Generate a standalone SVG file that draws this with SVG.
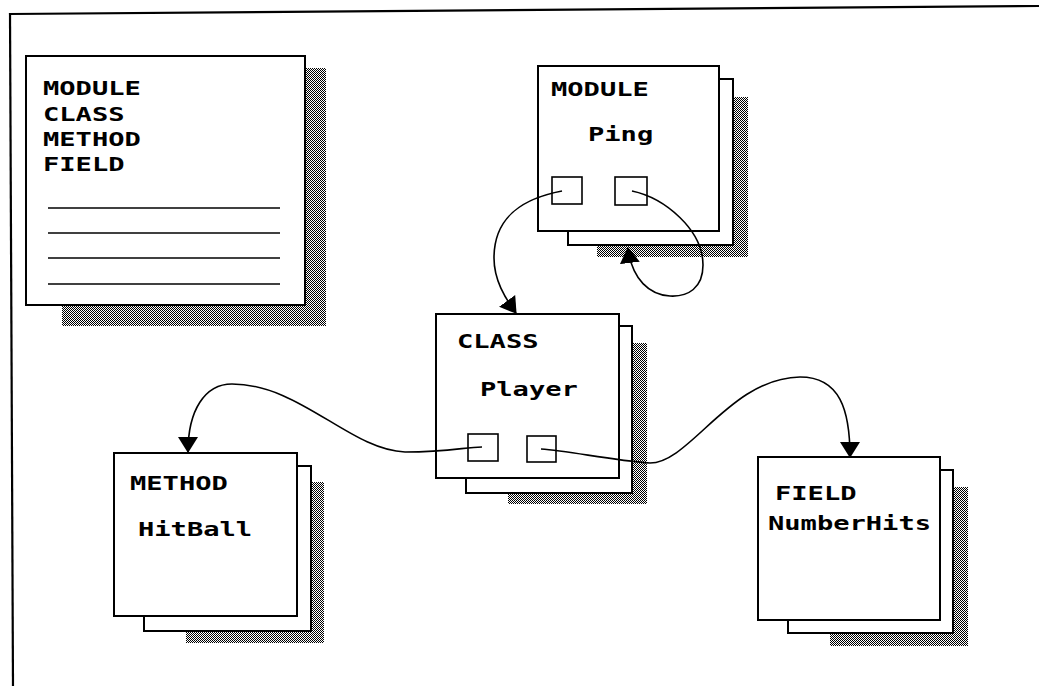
<svg xmlns="http://www.w3.org/2000/svg" width="1039" height="686" viewBox="0 0 1039 686">
  <style>
    .card { fill: #fff; stroke: #000; stroke-width: 2; }
    .shadow { fill: url(#dither); stroke: none; }
    .port { fill: none; stroke: #000; stroke-width: 1.6; }
    .rule { stroke: #000; stroke-width: 1.6; }
    .frame { stroke: #000; stroke-width: 2.2; fill: none; }
    .lbl { font-family: "DejaVu Sans Mono", "Liberation Mono", monospace; font-weight: bold; font-size: 19px; fill: #000; }
    .link { fill: none; stroke: #000; stroke-width: 1.6; marker-end: url(#arrow); }
  </style>
  <defs>
    <pattern id="dither" width="2" height="2" patternUnits="userSpaceOnUse">
      <rect width="2" height="2" fill="#fff"/>
      <rect x="0" y="0" width="1" height="1" fill="#000"/>
      <rect x="1" y="1" width="1" height="1" fill="#000"/>
    </pattern>
    <marker id="arrow" viewBox="0 0 16 20" refX="15" refY="10" markerWidth="16" markerHeight="20" markerUnits="userSpaceOnUse" orient="auto">
      <path d="M0,0 L16,10 L0,20 z" fill="#000"/>
    </marker>
  </defs>

  <rect width="1039" height="686" fill="#fff"/>

  <!-- outer frame: top and left edges only -->
  <g id="frame">
    <path class="frame" d="M10,14 L1039,6"/>
    <path class="frame" d="M10,13 L13,686"/>
  </g>

  <!-- legend card -->
  <g id="legend">
    <rect class="shadow" x="62" y="68" width="264" height="258"/>
    <rect class="card" x="26" y="56" width="279" height="249"/>
    <text class="lbl" x="43" y="95" textLength="97.8" lengthAdjust="spacingAndGlyphs">MODULE</text>
    <text class="lbl" x="43" y="121" textLength="81.5" lengthAdjust="spacingAndGlyphs">CLASS</text>
    <text class="lbl" x="43" y="146" textLength="97.8" lengthAdjust="spacingAndGlyphs">METHOD</text>
    <text class="lbl" x="43" y="171" textLength="81.5" lengthAdjust="spacingAndGlyphs">FIELD</text>
    <line class="rule" x1="48" y1="208" x2="280" y2="208"/>
    <line class="rule" x1="48" y1="233" x2="280" y2="233"/>
    <line class="rule" x1="48" y1="258" x2="280" y2="258"/>
    <line class="rule" x1="48" y1="284" x2="280" y2="284"/>
  </g>

  <!-- MODULE Ping -->
  <g id="module-ping">
    <rect class="shadow" x="597" y="97" width="151" height="160"/>
    <rect class="card" x="568" y="79" width="165" height="166"/>
    <rect class="card" x="538" y="66" width="181" height="165"/>
    <text class="lbl" x="551" y="96" textLength="97.8" lengthAdjust="spacingAndGlyphs">MODULE</text>
    <text class="lbl" x="588" y="141" textLength="65.2" lengthAdjust="spacingAndGlyphs">Ping</text>
    <rect class="port" x="552" y="177" width="30" height="27"/>
    <rect class="port" x="615" y="177" width="32" height="28"/>
  </g>

  <!-- CLASS Player -->
  <g id="class-player">
    <rect class="shadow" x="508" y="343" width="139" height="161"/>
    <rect class="card" x="466" y="326" width="166" height="167"/>
    <rect class="card" x="436" y="314" width="183" height="164"/>
    <text class="lbl" x="457" y="348" textLength="81.5" lengthAdjust="spacingAndGlyphs">CLASS</text>
    <text class="lbl" x="480" y="396" textLength="97.8" lengthAdjust="spacingAndGlyphs">Player</text>
    <rect class="port" x="468" y="434" width="30" height="27"/>
    <rect class="port" x="527" y="436" width="29" height="26"/>
  </g>

  <!-- METHOD HitBall -->
  <g id="method-hitball">
    <rect class="shadow" x="186" y="482" width="138" height="161"/>
    <rect class="card" x="144" y="466" width="167" height="165"/>
    <rect class="card" x="114" y="453" width="183" height="163"/>
    <text class="lbl" x="130" y="490" textLength="97.8" lengthAdjust="spacingAndGlyphs">METHOD</text>
    <text class="lbl" x="138" y="536" textLength="114.1" lengthAdjust="spacingAndGlyphs">HitBall</text>
  </g>

  <!-- FIELD NumberHits -->
  <g id="field-numberhits">
    <rect class="shadow" x="830" y="487" width="138" height="159"/>
    <rect class="card" x="788" y="470" width="165" height="163"/>
    <rect class="card" x="758" y="457" width="182" height="163"/>
    <text class="lbl" x="775" y="500" textLength="81.5" lengthAdjust="spacingAndGlyphs">FIELD</text>
    <text class="lbl" x="768" y="530" textLength="163" lengthAdjust="spacingAndGlyphs">NumberHits</text>
  </g>

  <!-- connectors -->
  <g id="connectors">
    <path class="link" d="M562,191 C525,198 494,215 494,258 C494,280 505,298 516,313"/>
    <path class="link" d="M632,191 C665,198 703,230 703,265 C703,288 688,297 670,296 C650,295 632,280 628,248"/>
    <path class="link" d="M482,447 C465,447 450,452 405,452 C350,450 300,384 232,384 C205,384 188,410 188,452"/>
    <path class="link" d="M541,449 C570,451 610,460 650,463 C690,463 730,378 800,377 C840,377 850,410 850,457"/>
  </g>
</svg>
